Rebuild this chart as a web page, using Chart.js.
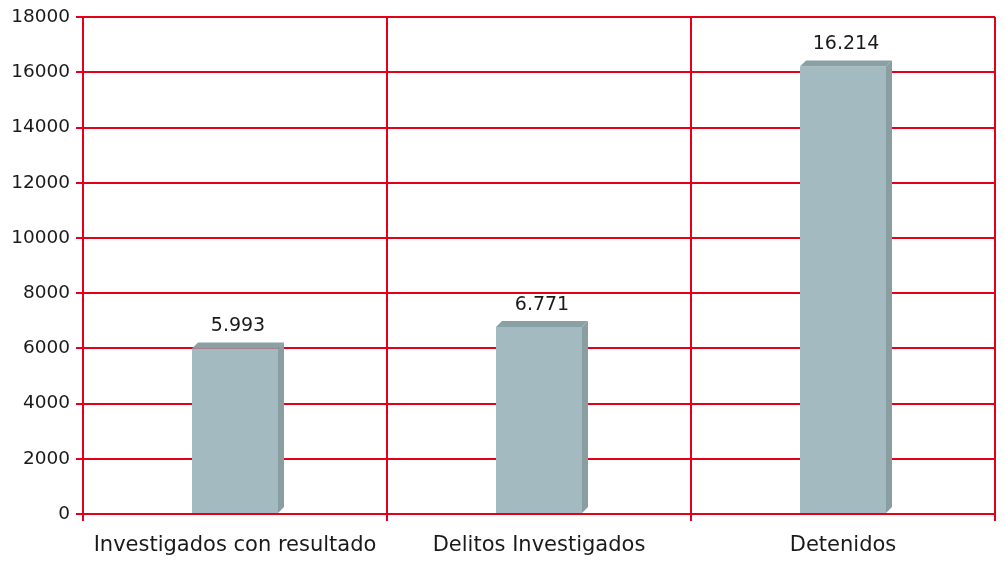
<!DOCTYPE html>
<html>
<head>
<meta charset="utf-8">
<script src="https://cdn.jsdelivr.net/npm/chart.js@4/dist/chart.umd.min.js"></script>
<style>
  html, body { margin: 0; padding: 0; background: #fff; }
  #wrap { width: 1005px; height: 562px; position: relative; }
</style>
</head>
<body>
<div id="wrap"><canvas id="c"></canvas></div>
<script>
  var CATEGORIES = ["Investigados con resultado", "Delitos Investigados", "Detenidos"];
  var VALUES = [5993, 6771, 16214];
  var Y_MIN = 0, Y_MAX = 18000, Y_STEP = 2000;

  var COL = { front: "#a3bbc0", top: "#89a0a4", side: "#8a9ea2", grid: "#e2001a", text: "#1a1a1a" };
  var FONT = "'DejaVu Sans', sans-serif";

  function esNum(n) { return String(n).replace(/\B(?=(\d{3})+(?!\d))/g, "."); }

  // draws the top and right faces of each bar plus its value label
  var bar3d = {
    id: "bar3d",
    afterDatasetsDraw: function (chart) {
      var ctx = chart.ctx, d = 6;
      chart.getDatasetMeta(0).data.forEach(function (b, i) {
        var l = b.x - b.width / 2, r = b.x + b.width / 2, t = b.y, base = b.base;
        ctx.save();
        ctx.fillStyle = COL.top;
        ctx.beginPath();
        ctx.moveTo(l, t); ctx.lineTo(l + d, t - d); ctx.lineTo(r + d, t - d); ctx.lineTo(r, t);
        ctx.closePath(); ctx.fill();
        ctx.fillStyle = COL.side;
        ctx.beginPath();
        ctx.moveTo(r, t); ctx.lineTo(r + d, t - d); ctx.lineTo(r + d, base - d); ctx.lineTo(r, base);
        ctx.closePath(); ctx.fill();
        ctx.fillStyle = COL.text;
        ctx.font = "19px " + FONT;
        ctx.textAlign = "center";
        ctx.textBaseline = "bottom";
        ctx.fillText(esNum(VALUES[i]), b.x + d / 2, t - d - 7);
        ctx.restore();
      });
    }
  };

  new Chart(document.getElementById("c"), {
    type: "bar",
    data: {
      labels: CATEGORIES,
      datasets: [{ data: VALUES, backgroundColor: COL.front, borderWidth: 0,
        barPercentage: 0.283, categoryPercentage: 1 }]
    },
    options: {
      responsive: true, maintainAspectRatio: false, animation: false,
      layout: { padding: { top: 8, right: 10, left: 0, bottom: 0 } },
      plugins: { legend: { display: false }, tooltip: { enabled: false } },
      scales: {
        x: {
          grid: { offset: true, color: COL.grid, lineWidth: 2, tickLength: 7 },
          border: { color: COL.grid, width: 2 },
          ticks: { color: COL.text, font: { family: FONT, size: 21 }, padding: 12, maxRotation: 0 },
          afterFit: function (s) { s.height = 48; }
        },
        y: {
          min: Y_MIN, max: Y_MAX,
          grid: { color: COL.grid, lineWidth: 2, tickLength: 7 },
          border: { color: COL.grid, width: 2 },
          ticks: { stepSize: Y_STEP, color: COL.text, font: { family: FONT, size: 18.5 }, padding: 6,
            callback: function (v) { return String(v); } },
          afterFit: function (s) { s.width = 83; }
        }
      }
    },
    plugins: [bar3d]
  });
</script>
</body>
</html>
